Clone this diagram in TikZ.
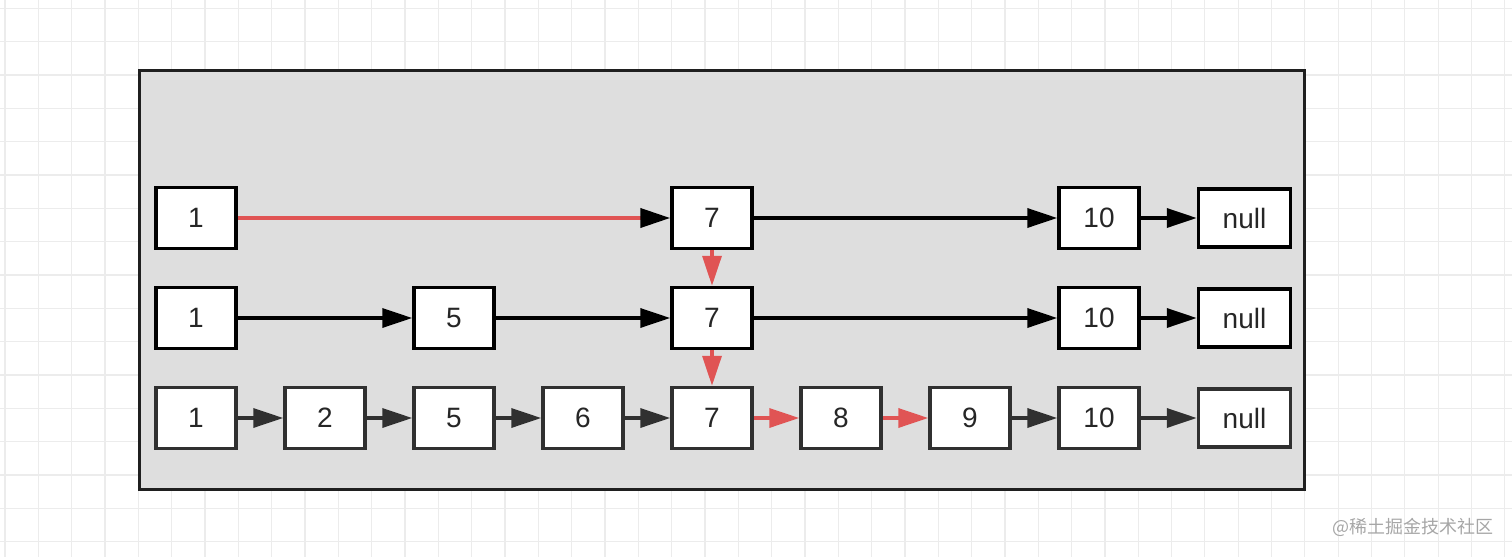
\documentclass[tikz,border=0pt]{standalone}
\usepackage{fontspec}
\setmainfont{Liberation Sans}
\newfontfamily\cjkfont{Noto Sans CJK SC}
\usetikzlibrary{arrows.meta, positioning}
\definecolor{linkred}{RGB}{224,84,84}
\definecolor{panelgray}{RGB}{222,222,222}
\definecolor{gridgray}{RGB}{236,236,236}
\definecolor{darkline}{RGB}{48,48,48}
\tikzstyle{every picture} = [x=1pt, y=-1pt, >={Triangle[length=30pt, width=19pt]}, node distance=35.5pt and 45.5pt]
\tikzstyle{box} = [rectangle, draw=black, line width=3.5pt, fill=white, text=black!85, minimum width=80pt, minimum height=61pt, inner sep=0pt, font=\fontsize{28}{32}\selectfont]
\tikzstyle{nullbox} = [box, minimum width=92pt, minimum height=58pt]
\tikzstyle{link} = [->, draw=black, line width=3.5pt]

\begin{document}
\begin{tikzpicture}
            \useasboundingbox (0,0) rectangle (1512,557);
            % background grid
            \foreach \gx in {0,...,45}
                \draw[gridgray, line width=1.2pt] ({5+33.33*\gx},0) -- ++(0,557);
            \foreach \gy in {0,...,16}
                \draw[gridgray, line width=1.2pt] (0,{8.33+33.33*\gy}) -- ++(1512,0);
            \draw[draw=black!88, fill=panelgray, line width=3pt] (139,70) rectangle (1304,489);

            % level 0
            \node (low 1) [box, draw=darkline] at (196,418) {1};
            \node (low 2) [box, draw=darkline, right=of low 1] {2};
            \node (low 5) [box, draw=darkline, right=of low 2] {5};
            \node (low 6) [box, draw=darkline, right=of low 5] {6};
            \node (low 7) [box, draw=darkline, right=of low 6] {7};
            \node (low 8) [box, draw=darkline, right=of low 7] {8};
            \node (low 9) [box, draw=darkline, right=of low 8] {9};
            \node (low 10) [box, draw=darkline, right=of low 9] {10};
            \node (low null) [nullbox, draw=darkline, right=56pt of low 10] {null};

            % level 1
            \node (mid 1) [box, above=of low 1] {1};
            \node (mid 5) [box, above=of low 5] {5};
            \node (mid 7) [box, above=of low 7] {7};
            \node (mid 10) [box, above=of low 10] {10};
            \node (mid null) [nullbox, right=56pt of mid 10] {null};

            % level 2
            \node (top 1) [box, above=of mid 1] {1};
            \node (top 7) [box, above=of mid 7] {7};
            \node (top 10) [box, above=of mid 10] {10};
            \node (top null) [nullbox, right=56pt of top 10] {null};

            \node (mark) [anchor=east, text=black!35, font=\cjkfont\fontsize{18}{20}\selectfont] at (1497,527) {@稀土掘金技术社区};

            \path (top 1) edge[link, draw=linkred, line width=4pt, -{Triangle[length=30pt, width=19pt, color=black]}] (top 7)
                  (top 7) edge[link] (top 10)
                  (top 10) edge[link] (top null)
                  (top 7) edge[link, draw=linkred] (mid 7)
                  (mid 1) edge[link] (mid 5)
                  (mid 5) edge[link] (mid 7)
                  (mid 7) edge[link] (mid 10)
                  (mid 10) edge[link] (mid null)
                  (mid 7) edge[link, draw=linkred] (low 7)
                  (low 1) edge[link, draw=darkline] (low 2)
                  (low 2) edge[link, draw=darkline] (low 5)
                  (low 5) edge[link, draw=darkline] (low 6)
                  (low 6) edge[link, draw=darkline] (low 7)
                  (low 7) edge[link, draw=linkred] (low 8)
                  (low 8) edge[link, draw=linkred] (low 9)
                  (low 9) edge[link, draw=darkline] (low 10)
                  (low 10) edge[link, draw=darkline] (low null);
\end{tikzpicture}
\end{document}
